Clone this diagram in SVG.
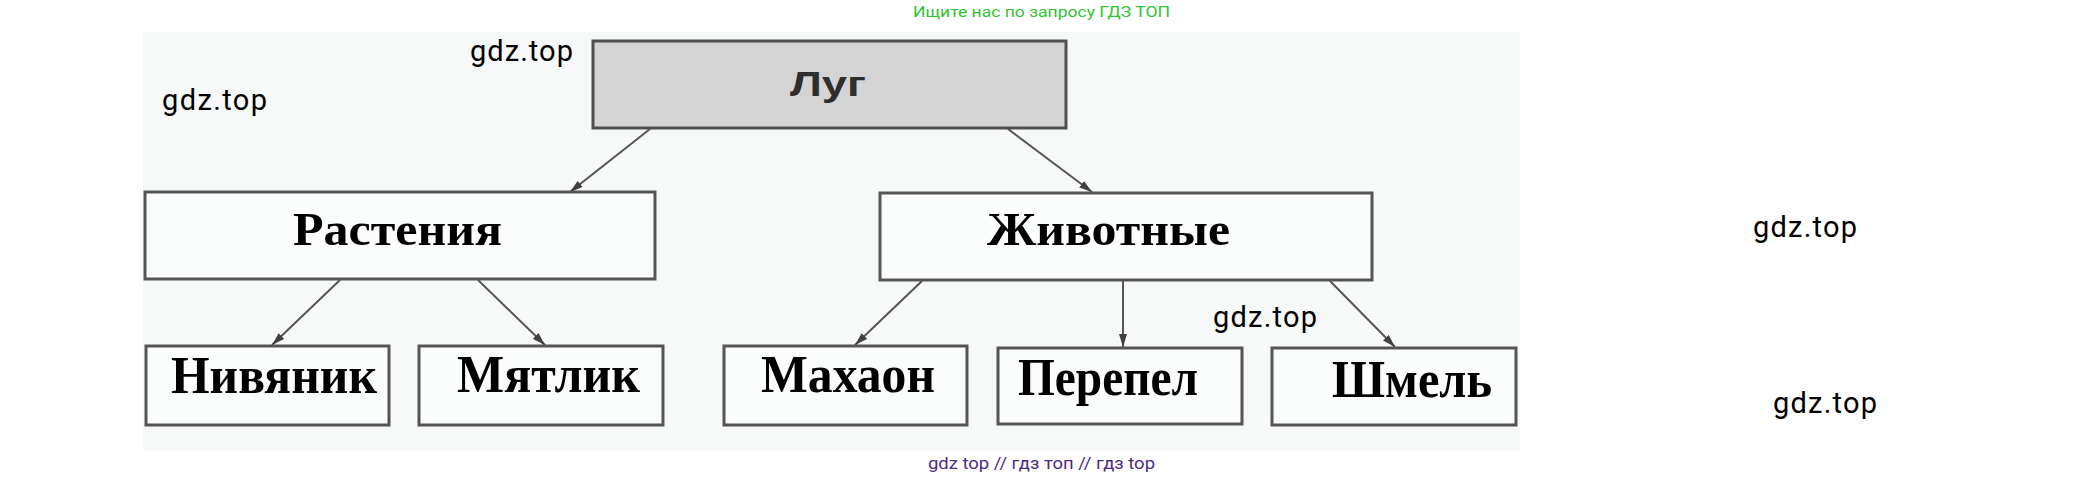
<svg xmlns="http://www.w3.org/2000/svg" width="2084" height="478" viewBox="0 0 2084 478">
<defs>
<style>
.box{fill:#fbfcfc;stroke:#555555;stroke-width:3}
.root{fill:#d4d4d4;stroke:#4f4f4f;stroke-width:3}
.lbl{font-family:"Liberation Serif","Times New Roman",serif;font-weight:bold;fill:#000}
.wm{font-family:Roboto,"Liberation Sans",sans-serif;font-size:29px;fill:#000}
.conn line{stroke:#555555;stroke-width:2;marker-end:url(#ah)}
</style>
<marker id="ah" viewBox="0 0 13 8" refX="13" refY="4" markerWidth="13" markerHeight="8" markerUnits="userSpaceOnUse" orient="auto">
<path d="M0,0 L13,4 L0,8 Z" fill="#404040"/>
</marker>
</defs>
<rect width="2084" height="478" fill="#ffffff"/>
<rect x="143" y="32" width="1377" height="419" fill="#f7f8f8"/>

<g id="conns" class="conn">
<line x1="650" y1="129" x2="570" y2="192"/>
<line x1="1008" y1="129" x2="1092" y2="192"/>
<line x1="340" y1="280" x2="272" y2="345"/>
<line x1="478" y1="280" x2="545" y2="345"/>
<line x1="922" y1="281" x2="855" y2="345"/>
<line x1="1123" y1="281" x2="1123" y2="347"/>
<line x1="1330" y1="281" x2="1395" y2="347"/>
</g>

<g id="n-lug">
<rect class="root" x="593" y="41" width="473" height="87"/>
<text x="828" y="96" text-anchor="middle" font-family="'Liberation Sans',Arial,sans-serif" font-weight="bold" font-size="35" fill="#2e2e2e" textLength="76" lengthAdjust="spacingAndGlyphs">Луг</text>
</g>
<g id="n-rasteniya">
<rect class="box" x="145" y="192" width="510" height="87"/>
<text class="lbl" x="293" y="245" font-size="47" textLength="209" lengthAdjust="spacingAndGlyphs">Растения</text>
</g>
<g id="n-zhivotnye">
<rect class="box" x="880" y="193" width="492" height="87"/>
<text class="lbl" x="987" y="245" font-size="47" textLength="243" lengthAdjust="spacingAndGlyphs">Животные</text>
</g>
<g id="n-nivyanik">
<rect class="box" x="146" y="346" width="243" height="79"/>
<text class="lbl" x="171" y="393" font-size="53" textLength="206" lengthAdjust="spacingAndGlyphs">Нивяник</text>
</g>
<g id="n-myatlik">
<rect class="box" x="419" y="346" width="244" height="79"/>
<text class="lbl" x="457" y="392" font-size="53" textLength="183" lengthAdjust="spacingAndGlyphs">Мятлик</text>
</g>
<g id="n-mahaon">
<rect class="box" x="724" y="346" width="243" height="79"/>
<text class="lbl" x="761" y="392" font-size="53" textLength="174" lengthAdjust="spacingAndGlyphs">Махаон</text>
</g>
<g id="n-perepel">
<rect class="box" x="998" y="348" width="244" height="76"/>
<text class="lbl" x="1018" y="395" font-size="53" textLength="180" lengthAdjust="spacingAndGlyphs">Перепел</text>
</g>
<g id="n-shmel">
<rect class="box" x="1272" y="348" width="244" height="77"/>
<text class="lbl" x="1332" y="397" font-size="53" textLength="160" lengthAdjust="spacingAndGlyphs">Шмель</text>
</g>

<g id="watermarks">
<text x="913" y="17" font-family="Roboto,'Liberation Sans',sans-serif" font-size="15" fill="#2fc42f" textLength="257" lengthAdjust="spacingAndGlyphs">Ищите нас по запросу ГДЗ ТОП</text>
<text class="wm" x="470" y="61" textLength="103">gdz.top</text>
<text class="wm" x="162" y="110" textLength="105">gdz.top</text>
<text class="wm" x="1213" y="327" textLength="104">gdz.top</text>
<text class="wm" x="1753" y="237" textLength="104">gdz.top</text>
<text class="wm" x="1773" y="413" textLength="104">gdz.top</text>
<text x="928" y="469" font-family="Roboto,'Liberation Sans',sans-serif" font-size="16" fill="#4e2a84" textLength="227" lengthAdjust="spacingAndGlyphs">gdz top  //  гдз топ  //  гдз top</text>
</g>
</svg>
